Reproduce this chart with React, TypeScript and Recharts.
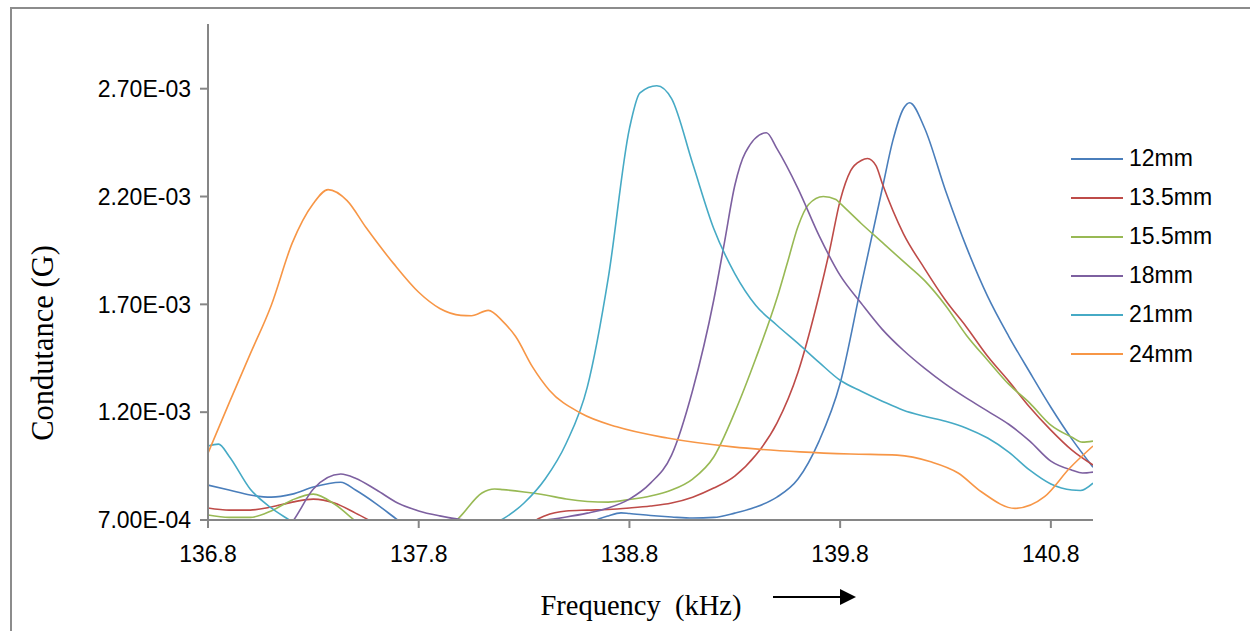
import React from 'react';
import { LineChart, Line, XAxis, YAxis, Legend } from 'recharts';

// Conductance values are read in mS (x 1e-3 S); converted below.
const seriesNames = ['12mm', '13.5mm', '15.5mm', '18mm', '21mm', '24mm'];
const seriesColors = ['#4A7EBB', '#BE4B48', '#98B954', '#7D60A0', '#46AAC5', '#F79646'];

const f12 = [136.8, 136.9, 137.0, 137.1, 137.2, 137.3, 137.43, 137.5, 137.6, 137.7, 137.8, 138.0, 138.3, 138.5, 138.6, 138.7, 138.76, 138.8, 138.9, 139.0, 139.1, 139.2, 139.3, 139.4, 139.5, 139.6, 139.7, 139.8, 139.9, 140.0, 140.05, 140.1, 140.13, 140.2, 140.3, 140.4, 140.5, 140.6, 140.7, 140.8, 140.9, 141.0];
const g12 = [0.862, 0.839, 0.816, 0.806, 0.820, 0.853, 0.875, 0.839, 0.774, 0.700, 0.630, 0.580, 0.570, 0.600, 0.680, 0.719, 0.733, 0.730, 0.721, 0.714, 0.709, 0.712, 0.732, 0.760, 0.806, 0.890, 1.066, 1.334, 1.788, 2.237, 2.459, 2.607, 2.635, 2.519, 2.228, 1.964, 1.737, 1.552, 1.385, 1.223, 1.075, 0.945];

const f135 = [136.8, 136.9, 137.0, 137.1, 137.2, 137.3, 137.4, 137.5, 137.6, 137.7, 137.9, 138.1, 138.3, 138.35, 138.4, 138.5, 138.6, 138.7, 138.8, 138.9, 139.0, 139.1, 139.2, 139.3, 139.4, 139.5, 139.6, 139.7, 139.75, 139.8, 139.85, 139.9, 139.93, 139.97, 140.0, 140.1, 140.2, 140.3, 140.4, 140.5, 140.6, 140.7, 140.8, 140.9, 141.0];
const g135 = [0.756, 0.746, 0.746, 0.760, 0.783, 0.797, 0.779, 0.732, 0.681, 0.630, 0.600, 0.600, 0.640, 0.695, 0.720, 0.742, 0.746, 0.749, 0.756, 0.765, 0.779, 0.806, 0.848, 0.904, 1.001, 1.149, 1.385, 1.742, 1.950, 2.181, 2.320, 2.367, 2.376, 2.343, 2.260, 2.028, 1.867, 1.719, 1.594, 1.459, 1.344, 1.223, 1.117, 1.024, 0.955];

const f155 = [136.8, 136.9, 137.0, 137.1, 137.2, 137.3, 137.4, 137.5, 137.6, 137.7, 137.8, 137.9, 138.0, 138.1, 138.16, 138.2, 138.3, 138.4, 138.5, 138.6, 138.7, 138.8, 138.9, 139.0, 139.1, 139.2, 139.3, 139.4, 139.5, 139.55, 139.6, 139.65, 139.72, 139.78, 139.8, 139.9, 140.0, 140.1, 140.2, 140.3, 140.4, 140.5, 140.6, 140.7, 140.8, 140.9, 140.95, 141.0];
const g155 = [0.723, 0.712, 0.712, 0.742, 0.793, 0.820, 0.774, 0.695, 0.620, 0.580, 0.580, 0.620, 0.719, 0.825, 0.844, 0.841, 0.830, 0.816, 0.797, 0.786, 0.783, 0.795, 0.811, 0.839, 0.890, 0.992, 1.200, 1.450, 1.728, 1.894, 2.061, 2.163, 2.200, 2.186, 2.168, 2.075, 1.987, 1.899, 1.811, 1.695, 1.556, 1.441, 1.330, 1.242, 1.140, 1.084, 1.061, 1.066];

const f18 = [136.8, 137.0, 137.1, 137.2, 137.3, 137.43, 137.5, 137.6, 137.7, 137.8, 137.9, 138.0, 138.1, 138.2, 138.3, 138.4, 138.5, 138.6, 138.7, 138.8, 138.9, 139.0, 139.1, 139.2, 139.25, 139.3, 139.35, 139.45, 139.5, 139.6, 139.7, 139.8, 139.9, 140.0, 140.1, 140.2, 140.3, 140.4, 140.5, 140.6, 140.7, 140.8, 140.9, 140.95, 141.0];
const g18 = [0.500, 0.550, 0.600, 0.691, 0.844, 0.913, 0.894, 0.839, 0.779, 0.742, 0.719, 0.702, 0.695, 0.695, 0.695, 0.700, 0.714, 0.732, 0.756, 0.797, 0.871, 1.001, 1.302, 1.719, 1.982, 2.251, 2.404, 2.496, 2.422, 2.237, 2.019, 1.834, 1.705, 1.584, 1.487, 1.404, 1.330, 1.265, 1.205, 1.144, 1.066, 0.973, 0.931, 0.918, 0.922];

const f21 = [136.8, 136.85, 136.9, 137.0, 137.1, 137.2, 137.3, 137.6, 137.9, 138.1, 138.2, 138.3, 138.4, 138.5, 138.6, 138.7, 138.8, 138.85, 138.93, 139.0, 139.1, 139.2, 139.3, 139.4, 139.5, 139.6, 139.7, 139.8, 139.9, 140.0, 140.1, 140.2, 140.3, 140.4, 140.5, 140.6, 140.7, 140.8, 140.9, 140.94, 141.0];
const g21 = [1.043, 1.052, 0.996, 0.844, 0.756, 0.691, 0.620, 0.580, 0.600, 0.660, 0.705, 0.779, 0.890, 1.056, 1.316, 1.825, 2.515, 2.681, 2.714, 2.654, 2.353, 2.052, 1.843, 1.695, 1.603, 1.519, 1.431, 1.348, 1.297, 1.251, 1.209, 1.181, 1.158, 1.126, 1.080, 1.015, 0.931, 0.867, 0.839, 0.837, 0.871];

const f24 = [136.8, 136.9, 137.0, 137.1, 137.2, 137.3, 137.37, 137.46, 137.55, 137.68, 137.8, 137.9, 138.0, 138.05, 138.13, 138.2, 138.26, 138.34, 138.42, 138.57, 138.74, 138.98, 139.29, 139.61, 139.85, 140.07, 140.23, 140.36, 140.47, 140.63, 140.77, 140.89, 141.0];
const g24 = [1.010, 1.242, 1.469, 1.695, 1.985, 2.168, 2.232, 2.181, 2.056, 1.890, 1.756, 1.681, 1.649, 1.647, 1.672, 1.620, 1.551, 1.410, 1.302, 1.195, 1.132, 1.080, 1.039, 1.016, 1.006, 1.001, 0.970, 0.918, 0.831, 0.754, 0.808, 0.941, 1.043];

const xTicks = [136.8, 137.8, 138.8, 139.8, 140.8];
const yTicks = [0.0007, 0.0012, 0.0017, 0.0022, 0.0027];

const freqLists = [f12, f135, f155, f18, f21, f24];
const valueLists = [g12, g135, g155, g18, g21, g24];

const seriesData = seriesNames.map((name, i) => ({
  name,
  color: seriesColors[i],
  data: freqLists[i].map((f, j) => ({ f, g: valueLists[i][j] * 1e-3 })),
}));

const fmtY = (v: number) => {
  const [m, e] = v.toExponential(2).split('e');
  const n = parseInt(e, 10);
  const sign = n < 0 ? '-' : '+';
  const abs = Math.abs(n);
  return `${m}E${sign}${abs < 10 ? '0' + abs : abs}`;
};

const tickFont = { fontFamily: '"Liberation Sans", Arial, sans-serif', fontSize: 23, fill: '#000' };

const XLabel = (props: any) => {
  const vb = props.viewBox || { x: 208, y: 520, width: 885, height: 60 };
  const cx = vb.x + 433;
  const y = vb.y + 95;
  return (
    <g>
      <text x={cx} y={y} textAnchor="middle" style={{ fontFamily: '"Liberation Serif", "Times New Roman", serif', fontSize: 28.5, fill: '#000', whiteSpace: 'pre' }}>
        {'Frequency  (kHz)'}
      </text>
      <line x1={vb.x + 565} y1={vb.y + 77} x2={vb.x + 636} y2={vb.y + 77} stroke="#000" strokeWidth={2} />
      <polygon points={`${vb.x + 632},${vb.y + 69} ${vb.x + 648},${vb.y + 77} ${vb.x + 632},${vb.y + 85}`} fill="#000" />
    </g>
  );
};

const YLabel = () => {
  const x = 43;
  const y = 343;
  return (
    <text x={x} y={y} textAnchor="middle" dominantBaseline="central" transform={`rotate(-90 ${x} ${y})`}
      style={{ fontFamily: '"Liberation Serif", "Times New Roman", serif', fontSize: 30.5, fill: '#000' }}>
      Condutance (G)
    </text>
  );
};

const renderLegend = (props: any) => {
  const payload = props.payload || [];
  return (
    <div>
      {payload.map((p: any) => (
        <div key={p.value} style={{ height: 39.1, display: 'flex', alignItems: 'center' }}>
          <div style={{ width: 52, height: 2, background: p.color, marginRight: 6 }} />
          <span style={{ fontFamily: '"Liberation Sans", Arial, sans-serif', fontSize: 23, color: '#000', lineHeight: '39px' }}>{p.value}</span>
        </div>
      ))}
    </div>
  );
};

export default function App() {
  return (
    <div style={{ position: 'absolute', left: 0, top: 0, width: 1250, height: 631, background: '#fff', overflow: 'hidden' }}>
      <div style={{ position: 'absolute', left: 10, top: 7, width: 1400, height: 800, borderLeft: '2px solid #8c8c8c', borderTop: '2px solid #8c8c8c' }} />
      <div style={{ position: 'absolute', left: 0, top: 0 }}>
        <LineChart width={1250} height={631} margin={{ top: 24, right: 157, bottom: 51, left: 8 }}>
          <XAxis
            type="number"
            dataKey="f"
            domain={[136.8, 141.0]}
            ticks={xTicks}
            allowDataOverflow
            tickFormatter={(v: number) => v.toFixed(1)}
            tick={tickFont}
            tickSize={8}
            tickMargin={18}
            height={60}
            axisLine={{ stroke: '#868686', strokeWidth: 2 }}
            tickLine={{ stroke: '#868686', strokeWidth: 2 }}
            label={<XLabel />}
          />
          <YAxis
            type="number"
            domain={[0.0007, 0.003]}
            ticks={yTicks}
            allowDataOverflow
            tickFormatter={fmtY}
            tick={tickFont}
            tickSize={8}
            tickMargin={9}
            width={200}
            axisLine={{ stroke: '#868686', strokeWidth: 2 }}
            tickLine={{ stroke: '#868686', strokeWidth: 2 }}
            label={<YLabel />}
          />
          <Legend
            layout="vertical"
            align="center"
            verticalAlign="middle"
            content={renderLegend}
            wrapperStyle={{ position: 'absolute', left: 1071, top: 139, width: 170 }}
          />
          {seriesData.map((s) => (
            <Line
              key={s.name}
              data={s.data}
              dataKey="g"
              name={s.name}
              type="monotone"
              stroke={s.color}
              strokeWidth={1.6}
              dot={false}
              activeDot={false}
              isAnimationActive={false}
            />
          ))}
        </LineChart>
      </div>
    </div>
  );
}
